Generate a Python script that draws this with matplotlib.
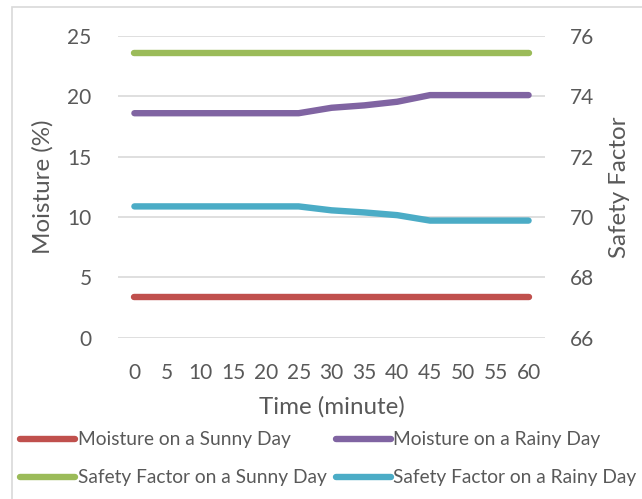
import numpy as np
import matplotlib
matplotlib.use("Agg")
import matplotlib.pyplot as plt
from matplotlib.patches import Rectangle
from matplotlib.lines import Line2D

# Data
time_min = [0, 5, 10, 15, 20, 25, 30, 35, 40, 45, 50, 55, 60]
moisture_sunny = [3.4] * 13
moisture_rainy = [18.6, 18.6, 18.6, 18.6, 18.6, 18.6, 19.05, 19.25, 19.55, 20.1, 20.1, 20.1, 20.1]
safety_sunny = [75.45] * 13
safety_rainy = [70.35, 70.35, 70.35, 70.35, 70.35, 70.35, 70.22, 70.15, 70.06, 69.88, 69.88, 69.88, 69.88]

RED = '#C0504D'
PURPLE = '#8064A2'
GREEN = '#9BBB59'
CYAN = '#4BACC6'
TXT = '#595959'

plt.rcParams['font.family'] = ['Lato', 'DejaVu Sans']

fig = plt.figure(figsize=(6.42, 4.99), dpi=100)
ax = fig.add_axes([118 / 642, 1 - 337.6 / 499, 427 / 642, 301.6 / 499])
ax2 = ax.twinx()

x = np.arange(len(time_min))
lw = 4.6
ax.plot(x, moisture_sunny, color=RED, lw=lw, solid_capstyle='round', zorder=3)
ax.plot(x, moisture_rainy, color=PURPLE, lw=lw, solid_capstyle='round', zorder=3)
ax2.plot(x, safety_sunny, color=GREEN, lw=lw, solid_capstyle='round')
ax2.plot(x, safety_rainy, color=CYAN, lw=lw, solid_capstyle='round')

ax.set_xlim(-0.5, len(time_min) - 0.5)
ax.set_ylim(0, 25)
ax.set_yticks(range(0, 26, 5))
ax2.set_ylim(66, 76)
ax2.set_yticks(range(66, 77, 2))
ax.set_xticks(x)
ax.set_xticklabels([str(t) for t in time_min])

ax.grid(axis='y', color='#D9D9D9', lw=1.2)
ax.set_axisbelow(True)
for a in (ax, ax2):
    for s in a.spines.values():
        s.set_visible(False)

ax.tick_params(axis='y', length=0, pad=19, labelsize=15, labelcolor=TXT)
ax.tick_params(axis='x', length=0, pad=18, labelsize=15, labelcolor=TXT)
ax2.tick_params(axis='y', length=0, pad=18, labelsize=15, labelcolor=TXT)

ax.set_ylabel('Moisture (%)', fontsize=17.4, color=TXT, va='center')
ax.yaxis.set_label_coords((43 - 118) / 427, 0.5)
ax2.set_ylabel('Safety Factor', fontsize=17.4, color=TXT, rotation=90, va='center')
ax2.yaxis.set_label_coords((620 - 118) / 427, 0.5)
ax.set_xlabel('Time (minute)', fontsize=17.4, color=TXT, va='center')
ax.xaxis.set_label_coords(0.5, -(407 - 337.6) / 301.6)

# chart border
fig.patches.append(Rectangle((12 / 642, -0.1), 1.2, (499 - 7) / 499 + 0.1,
                             transform=fig.transFigure, fill=False,
                             edgecolor='#D9D9D9', lw=1.2))

# legend: two rows, two columns
entries = [(RED, 'Moisture on a Sunny Day', 20, 440),
           (PURPLE, 'Moisture on a Rainy Day', 336, 440),
           (GREEN, 'Safety Factor on a Sunny Day', 20, 478),
           (CYAN, 'Safety Factor on a Rainy Day', 336, 478)]
for color, label, px, py in entries:
    h = Line2D([], [], color=color, lw=lw, solid_capstyle='round')
    leg = fig.legend([h], [label], loc='center left', bbox_to_anchor=(px / 642, 1 - py / 499),
                     frameon=False, fontsize=13.8, handlelength=2.85, handletextpad=0.15,
                     borderaxespad=0, borderpad=0)
    for t in leg.get_texts():
        t.set_color(TXT)

fig.savefig('out.png', dpi=100)
